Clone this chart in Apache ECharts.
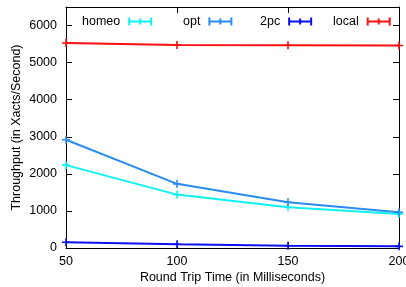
<!DOCTYPE html>
<html>
<head>
<meta charset="utf-8">
<script src="https://cdn.jsdelivr.net/npm/echarts@6/dist/echarts.min.js"></script>
<style>
  html, body { margin: 0; padding: 0; background: #fff; }
  #main { width: 406px; height: 287px; }
</style>
</head>
<body>
<div id="main"></div>
<script>
// 数据
var rtt = [50, 100, 150, 200];
var homeo = [2235, 1440, 1100, 920];
var opt = [2920, 1730, 1235, 965];
var twoPc = [154, 100, 62, 45];
var local = [5530, 5478, 5468, 5460];
var seriesNames = ['homeo', 'opt', '2pc', 'local'];

var font = 'Liberation Sans';
var plus = 'path://M4,0H6V10H4ZM0,4H10V6H0Z';
var legendIcon = 'path://M0,0H2V8H0ZM22,0H24V8H22ZM11,1H13V7H11ZM0,3H24V5H0Z';
var legendLeft = [82, 183, 260, 333];

function pairs(vals) {
  return rtt.map(function (x, i) { return [x, vals[i]]; });
}

function mk(name, vals, color) {
  return {
    name: name,
    type: 'line',
    data: pairs(vals),
    symbol: plus,
    symbolSize: 8,
    showSymbol: true,
    lineStyle: { color: color, width: 2 },
    itemStyle: { color: color },
    animation: false
  };
}

// gnuplot 风格的图例：每项单独定位
var legends = seriesNames.map(function (n, i) {
  return {
    top: 15,
    left: legendLeft[i],
    itemWidth: 24,
    itemHeight: 8,
    align: 'right',
    icon: legendIcon,
    padding: 0,
    textStyle: { fontFamily: font, fontSize: 12.5, color: '#000', padding: [0, 3, 0, 0] },
    data: [n]
  };
});

var chart = echarts.init(document.getElementById('main'), null, { renderer: 'canvas' });

var frameLine = { onZero: false, lineStyle: { color: '#000', width: 1 } };
var frameTick = { show: true, inside: true, length: 6, lineStyle: { color: '#000' } };

var option = {
  animation: false,
  grid: { left: 66, right: 7, top: 7, bottom: 39, containLabel: false, outerBoundsMode: 'none' },
  legend: legends,
  xAxis: [{
    type: 'value',
    min: 50, max: 200, interval: 50,
    name: 'Round Trip Time (in Milliseconds)',
    nameLocation: 'middle',
    nameGap: 23,
    nameMoveOverlap: false,
    nameTextStyle: { fontFamily: font, fontSize: 12.5, color: '#000' },
    axisLine: frameLine,
    axisTick: frameTick,
    axisLabel: { fontFamily: font, fontSize: 12.5, color: '#000', margin: 7, formatter: function (v) { return String(v); } },
    splitLine: { show: false }
  }, {
    type: 'value',
    position: 'top',
    min: 50, max: 200, interval: 50,
    axisLine: frameLine,
    axisTick: frameTick,
    axisLabel: { show: false },
    splitLine: { show: false }
  }],
  yAxis: [{
    type: 'value',
    min: 0, max: 6500, interval: 1000,
    name: 'Throughput (in Xacts/Second)',
    nameLocation: 'middle',
    nameGap: 43,
    nameMoveOverlap: false,
    nameTextStyle: { fontFamily: font, fontSize: 12.5, color: '#000' },
    axisLine: { show: true, onZero: false, lineStyle: { color: '#000', width: 1 } },
    axisTick: frameTick,
    axisLabel: { fontFamily: font, fontSize: 12.5, color: '#000', margin: 9, showMaxLabel: false, formatter: function (v) { return String(v); } },
    splitLine: { show: false }
  }, {
    type: 'value',
    position: 'right',
    min: 0, max: 6500, interval: 1000,
    axisLine: { show: true, onZero: false, lineStyle: { color: '#000', width: 1 } },
    axisTick: frameTick,
    axisLabel: { show: false },
    splitLine: { show: false }
  }],
  series: [
    mk('homeo', homeo, '#10f2f2'),
    mk('opt', opt, '#2a8cf0'),
    mk('2pc', twoPc, '#0a10ee'),
    mk('local', local, '#fa1010')
  ]
};

chart.setOption(option);
</script>
</body>
</html>
